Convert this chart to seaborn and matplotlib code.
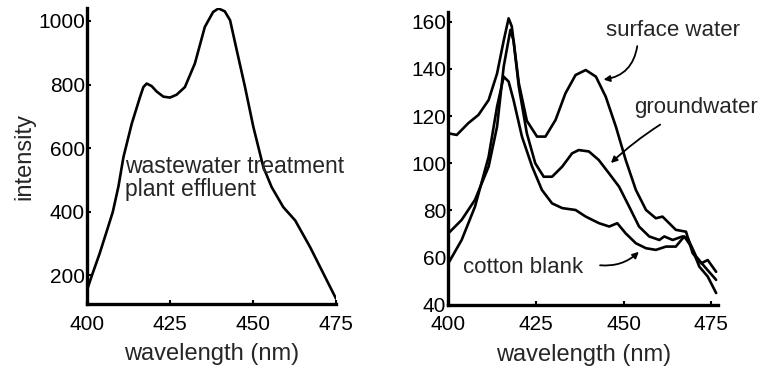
import numpy as np
import pandas as pd
import matplotlib
matplotlib.use("Agg")
import matplotlib.pyplot as plt
import seaborn as sns

# Left panel: wastewater treatment plant effluent
ww_x = [400, 401.5, 403.8, 406, 407.8, 409.5, 411, 413.5, 416, 417, 418, 419.5, 421, 423, 425,
        427, 429.5, 432.5, 435.5, 438, 439.6, 441.5, 443.1, 445.1, 447.6, 450.1, 453.1,
        455.6, 459.1, 462.7, 467.2, 471.2, 475]
ww_y = [153, 200, 268, 340, 400, 480, 572, 677, 761, 792, 803, 795, 778, 762, 759,
        768, 792, 866, 981, 1028, 1039, 1030, 1002, 908, 792, 667, 541,
        478, 415, 373, 289, 206, 127]

# Right panel
sw_x = [400, 402.4, 405.7, 408.6, 411.5, 413.9, 415.8, 417.2, 418.1, 420.1, 422.4, 425.3, 427.7,
        430.6, 433.4, 436.3, 439.2, 442.1, 444.9, 447.8, 450.6, 453.5, 456.4, 459.2, 461.1,
        463, 464.9, 467.8, 469.7, 472.1, 474, 476.4]
sw_y = [112.7, 112, 117, 120.5, 126.8, 138, 152, 161.4, 158, 134, 118, 111.3, 111.3,
        118.4, 129.6, 137.4, 139.5, 136.7, 128.2, 115.5, 101.4, 88.7, 80.2, 76.7, 77.4,
        74.6, 71.8, 71, 61.9, 57.6, 59, 54]

gw_x = [400, 403.8, 407.6, 411.5, 413.9, 415.8, 417.7, 418.6, 420.1, 422.4, 424.8, 427.2, 429.6,
        432.5, 435.3, 437.2, 440.1, 442.9, 445.8, 448.7, 451.6, 454.4, 457.3, 460.2, 461.6,
        464, 466.8, 468.3, 470.7, 473.1, 476.4]
gw_y = [70.3, 76, 84.5, 98.6, 115.5, 141, 156.5, 152, 132.5, 112.7, 100, 94.3, 94.3,
        98.6, 104.2, 105.6, 105, 101.4, 95.8, 90.1, 81.6, 73.2, 69, 67.5, 69,
        67.5, 69, 68.2, 60.5, 56.2, 50.6]

cb_x = [400, 403.8, 407.6, 411.5, 413.9, 415.8, 417.2, 418.6, 421, 423.9, 426.7, 429.6, 432.5,
        436.3, 439.2, 443, 445.9, 448.2, 450.6, 453.5, 456.4, 459.2, 462.1, 464.9, 467.3,
        469.3, 471.6, 474, 476.4]
cb_y = [57.6, 67.5, 81.6, 102.8, 124, 136.7, 134.6, 126.8, 111.3, 98.6, 88.7, 83, 81,
        80.2, 77.4, 74.6, 73.2, 74.6, 70.3, 66.1, 64, 63.3, 64.7, 64.7, 69,
        64.7, 56.2, 52, 45]

x_ticks = [400, 425, 450, 475]
left_yticks = [200, 400, 600, 800, 1000]
right_yticks = [40, 60, 80, 100, 120, 140, 160]

sns.set_style("ticks")
plt.rcParams['font.family'] = ['Liberation Sans', 'DejaVu Sans']

fig = plt.figure(figsize=(7.69, 3.70), dpi=100)
axL = fig.add_axes([0.113, 0.178, 0.324, 0.80])
axR = fig.add_axes([0.583, 0.176, 0.351, 0.791])

dfL = pd.DataFrame({"wavelength": ww_x, "intensity": ww_y})
sns.lineplot(data=dfL, x="wavelength", y="intensity", ax=axL, color="black", lw=1.9, sort=False)

series = [("surface water", sw_x, sw_y), ("groundwater", gw_x, gw_y), ("cotton blank", cb_x, cb_y)]
for name, xs, ys in series:
    d = pd.DataFrame({"wavelength": xs, "intensity": ys})
    sns.lineplot(data=d, x="wavelength", y="intensity", ax=axR, color="black", lw=1.9, sort=False)

for ax in (axL, axR):
    for s in ("top", "right"):
        ax.spines[s].set_visible(False)
    for s in ("left", "bottom"):
        ax.spines[s].set_linewidth(2.4)
        ax.spines[s].set_color("black")
    ax.tick_params(direction="in", length=3, width=1.5, labelsize=15, colors="black")
    ax.tick_params(axis="x", pad=7.5)
    ax.tick_params(axis="y", pad=1.5)
    ax.set_xticks(x_ticks)
    ax.set_xlabel("wavelength (nm)", fontsize=17, labelpad=7)

axL.set_xlim(400, 475)
axL.set_ylim(110, 1040)
axL.set_yticks(left_yticks)
axL.set_ylabel("intensity", fontsize=17, labelpad=2)
axL.text(411.4, 578, "wastewater treatment\nplant effluent", fontsize=16.5, va="top", ha="left",
         linespacing=1.0)

axR.set_xlim(400, 477)
axR.set_ylim(40, 164)
axR.set_yticks(right_yticks)
axR.set_ylabel("")

axR.text(444.9, 156.2, "surface water", fontsize=16, va="center", ha="left")
axR.text(453, 123.7, "groundwater", fontsize=16, va="center", ha="left")
axR.text(404.3, 55.8, "cotton blank", fontsize=16, va="center", ha="left")

arrow = dict(arrowstyle="-|>", color="black", lw=1.3, mutation_scale=9)
axR.annotate("", xy=(443.5, 135.3), xytext=(454, 150.8),
             arrowprops=dict(arrow, connectionstyle="arc3,rad=-0.4"))
axR.annotate("", xy=(445.8, 99.3), xytext=(461.1, 117),
             arrowprops=dict(arrow, connectionstyle="arc3,rad=0.05"))
axR.annotate("", xy=(454.9, 63.3), xytext=(442.5, 56.9),
             arrowprops=dict(arrow, connectionstyle="arc3,rad=0.25"))

fig.savefig("out.png", dpi=100)
